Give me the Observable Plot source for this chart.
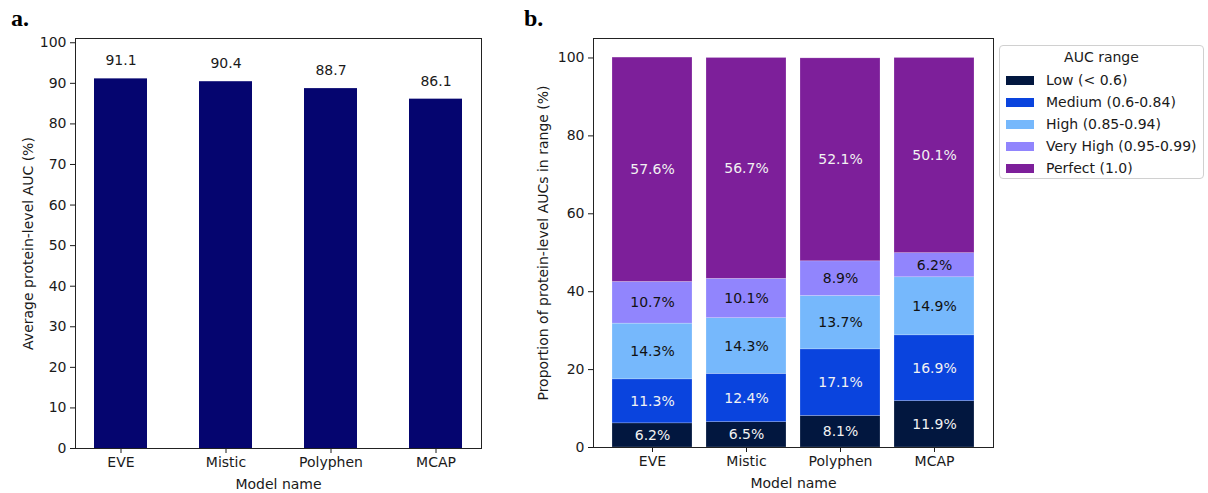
<!DOCTYPE html>
<html>
<head>
<meta charset="utf-8">
<script src="https://cdn.jsdelivr.net/npm/d3@7"></script>
<script src="https://cdn.jsdelivr.net/npm/@observablehq/plot@0.6"></script>
<style>
  html, body { margin: 0; padding: 0; background: #fff; }
  #wrap { position: relative; width: 1208px; height: 493px; overflow: hidden; font-family: "DejaVu Sans", sans-serif; background: #fff; }
  .panel { position: absolute; top: 0; z-index: 1; }
  .tag { position: absolute; z-index: 5; font-family: "Liberation Serif", serif; font-weight: bold; font-size: 24px; line-height: 1; color: #000; }
  #legend { position: absolute; z-index: 5; left: 999px; top: 45px; width: 205px; height: 134px; border: 1px solid #d0d0d0; border-radius: 4px; box-sizing: border-box; font-size: 14px; color: #1a1a1a; background: #fff; }
  #legend .title { position: absolute; top: 3px; left: 0; width: 100%; text-align: center; }
  #legend .row { position: absolute; left: 6px; height: 20px; line-height: 20px; white-space: nowrap; }
  #legend .sw { display: inline-block; width: 28px; height: 9px; margin-right: 12px; vertical-align: middle; position: relative; top: -1px; }
</style>
</head>
<body>
<div id="wrap">
  <div id="left" class="panel" style="left:0px;"></div>
  <div id="right" class="panel" style="left:500px;"></div>
  <div class="tag" style="left:11px; top:6px;">a.</div>
  <div class="tag" style="left:524px; top:6px;">b.</div>
  <div id="legend"></div>
</div>
<script>
// ---- data ----
const models = ["EVE", "Mistic", "Polyphen", "MCAP"];
const avgAUC = [91.1, 90.4, 88.7, 86.1];
const ranges = ["Low (< 0.6)", "Medium (0.6-0.84)", "High (0.85-0.94)", "Very High (0.95-0.99)", "Perfect (1.0)"];
const lowPct = [6.2, 6.5, 8.1, 11.9];
const mediumPct = [11.3, 12.4, 17.1, 16.9];
const highPct = [14.3, 14.3, 13.7, 14.9];
const veryHighPct = [10.7, 10.1, 8.9, 6.2];
const perfectPct = [57.6, 56.7, 52.1, 50.1];
const rangeColors = ["#02173f", "#0a44de", "#76b8fc", "#9185fd", "#7d1f9a"];
const lightLabelRanges = ["Low (< 0.6)", "Medium (0.6-0.84)", "Perfect (1.0)"];
const leftTicks = [0, 10, 20, 30, 40, 50, 60, 70, 80, 90, 100];
const rightTicks = [0, 20, 40, 60, 80, 100];
const barColor = "#05056f";

const avgData = models.map((m, i) => ({model: m, value: avgAUC[i]}));
const series = [lowPct, mediumPct, highPct, veryHighPct, perfectPct];
const stackData = [];
models.forEach((m, i) => ranges.forEach((r, j) => stackData.push({model: m, range: r, value: series[j][i]})));

const baseStyle = {fontSize: "14px", fontFamily: "DejaVu Sans", color: "#1a1a1a", background: "white", overflow: "visible"};

// ---- panel a ----
const left = Plot.plot({
  width: 490, height: 493,
  marginLeft: 75, marginRight: 9, marginTop: 38, marginBottom: 45,
  style: baseStyle,
  x: {domain: models, padding: 0.5, paddingOuter: 0.178, align: 0.5, label: "Model name", labelAnchor: "center", labelOffset: 40, tickSize: 5, tickPadding: 4},
  y: {domain: [0, 101.05], ticks: leftTicks, tickFormat: d => String(d), label: "Average protein-level AUC (%)", labelArrow: "none", labelAnchor: "center", labelOffset: 52, tickSize: 5, tickPadding: 4},
  marks: [
    Plot.barY(avgData, {x: "model", y: "value", fill: barColor}),
    Plot.text(avgData, {x: "model", y: "value", text: d => d.value.toFixed(1), dy: -18, fill: "#1a1a1a"}),
    Plot.frame({stroke: "#222"})
  ]
});
document.getElementById("left").appendChild(left);

// ---- panel b ----
const right = Plot.plot({
  width: 500, height: 493,
  marginLeft: 93, marginRight: 7, marginTop: 38, marginBottom: 46,
  style: baseStyle,
  x: {domain: models, paddingInner: 0.15, paddingOuter: 0.2, align: 0.5, label: "Model name", labelAnchor: "center", labelOffset: 40, tickSize: 5, tickPadding: 4},
  y: {domain: [0, 105], ticks: rightTicks, tickFormat: d => String(d), label: "Proportion of protein-level AUCs in range (%)", labelArrow: "none", labelAnchor: "center", labelOffset: 55, tickSize: 5, tickPadding: 4},
  color: {domain: ranges, range: rangeColors},
  marks: [
    Plot.barY(stackData, Plot.stackY({x: "model", y: "value", fill: "range", stroke: "white", strokeOpacity: 0.35, strokeWidth: 0.6})),
    Plot.text(stackData, Plot.stackY({x: "model", y: "value", text: d => lightLabelRanges.includes(d.range) ? d.value.toFixed(1) + "%" : "", fill: "#f2f2f2"})),
    Plot.text(stackData, Plot.stackY({x: "model", y: "value", text: d => lightLabelRanges.includes(d.range) ? "" : d.value.toFixed(1) + "%", fill: "#111"})),
    Plot.frame({stroke: "#222"})
  ]
});
document.getElementById("right").appendChild(right);

// ---- legend ----
const legend = document.getElementById("legend");
const t = document.createElement("div");
t.className = "title"; t.textContent = "AUC range";
legend.appendChild(t);
ranges.forEach((r, i) => {
  const row = document.createElement("div");
  row.className = "row";
  row.style.top = (24 + i * 22) + "px";
  const sw = document.createElement("span");
  sw.className = "sw"; sw.style.background = rangeColors[i];
  row.appendChild(sw);
  row.appendChild(document.createTextNode(r));
  legend.appendChild(row);
});
</script>
</body>
</html>
